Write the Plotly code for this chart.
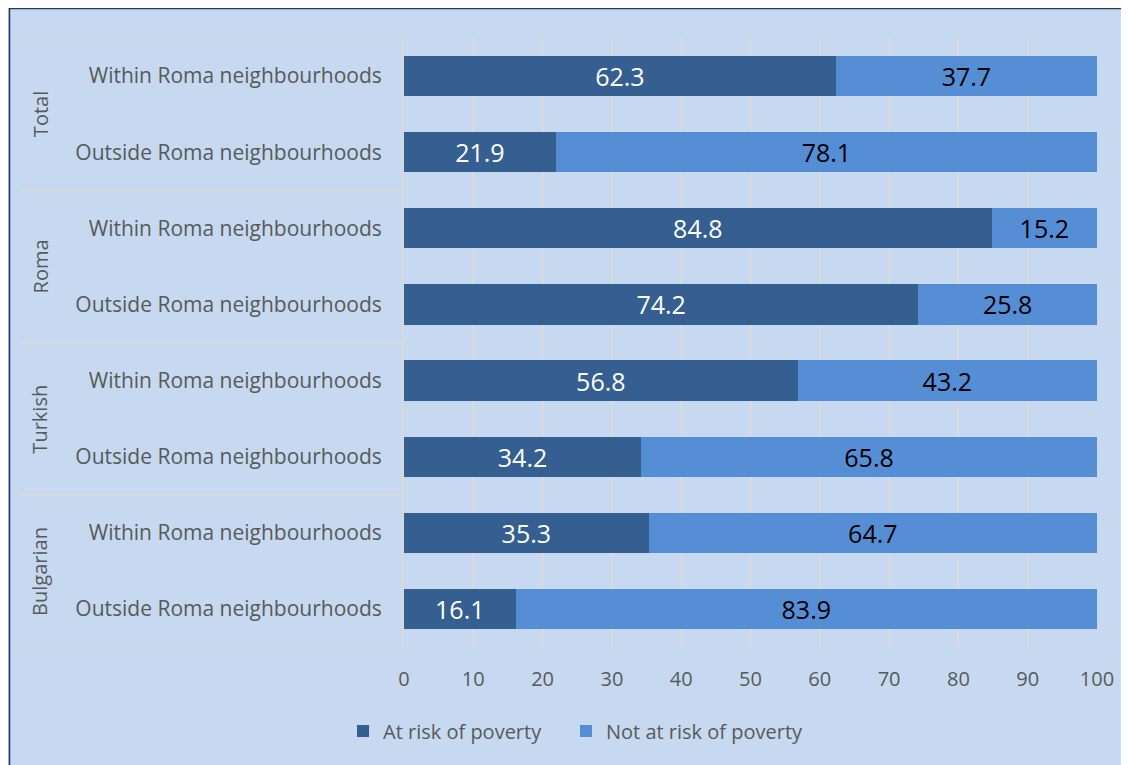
import plotly.graph_objects as go

groups = ["Total", "Roma", "Turkish", "Bulgarian"]
subgroups = ["Within Roma neighbourhoods", "Outside Roma neighbourhoods"]
at_risk = [62.3, 21.9, 84.8, 74.2, 56.8, 34.2, 35.3, 16.1]
not_at_risk = [37.7, 78.1, 15.2, 25.8, 43.2, 65.8, 64.7, 83.9]
x_ticks = list(range(0, 101, 10))

DARK = "#355F91"
LIGHT = "#558ED5"
BG = "#C6D9F0"
GRID = "#D9D9D9"
TXT = "#595959"
FONT = "Open Sans"

rows = list(range(len(at_risk)))
row_labels = [subgroups[i % 2] for i in rows]

# the page puts the figure 8px in from the top-left corner
OFF = 8
FW, FH = 1121, 757
L, T = 404 - OFF, 38 - OFF
R = FW - L - 693
B = FH - T - 609
W = FW - L - R
H = FH - T - B


def px_x(sx):
    return (sx - OFF - L) / W


def px_y(sy):
    return (FH - B - (sy - OFF)) / H


def cx(sx):
    return (sx - OFF) / FW


def cy(sy):
    return 1 - (sy - OFF) / FH


fig = go.Figure()
fig.add_trace(go.Bar(
    y=rows, x=at_risk, orientation="h", name="At risk of poverty",
    marker=dict(color=DARK, line=dict(width=0)),
    text=[f"{v:.1f}" for v in at_risk], textposition="inside",
    insidetextanchor="middle", textangle=0,
    textfont=dict(color="white", size=25, family=FONT),
    legend="legend", showlegend=True,
))
fig.add_trace(go.Bar(
    y=rows, x=not_at_risk, orientation="h", name="Not at risk of poverty",
    marker=dict(color=LIGHT, line=dict(width=0)),
    text=[f"{v:.1f}" for v in not_at_risk], textposition="inside",
    insidetextanchor="middle", textangle=0,
    textfont=dict(color="black", size=25, family=FONT),
    legend="legend2", showlegend=True,
))

shapes = []
# group dividers in the category area
for yb in [-0.5, 1.5, 3.5, 5.5, 7.5]:
    shapes.append(dict(type="line", xref="paper", yref="y", x0=px_x(21), x1=0,
                       y0=yb, y1=yb, line=dict(color=GRID, width=2)))
# navy frame round the chart
shapes.append(dict(type="line", xref="paper", yref="paper",
                   x0=px_x(9), x1=px_x(1160), y0=px_y(8.5), y1=px_y(8.5),
                   line=dict(color="#1F3864", width=1.5)))
shapes.append(dict(type="line", xref="paper", yref="paper",
                   x0=px_x(9.5), x1=px_x(9.5), y0=px_y(8), y1=px_y(800),
                   line=dict(color="#1F3864", width=1.5)))

annotations = []
for gi, g in enumerate(groups):
    annotations.append(dict(
        text=g, xref="paper", yref="y", x=px_x(40), y=gi * 2 + 0.5,
        textangle=-90, showarrow=False, xanchor="center", yanchor="middle",
        font=dict(size=20, color=TXT, family=FONT),
    ))

legend_style = dict(
    orientation="h", xref="container", yref="container",
    xanchor="left", yanchor="middle", y=cy(731),
    font=dict(size=20, color=TXT), bgcolor="rgba(0,0,0,0)",
)

fig.update_layout(
    barmode="stack",
    bargap=0.47,
    showlegend=True,
    width=FW, height=FH,
    margin=dict(l=L, r=R, t=T, b=B),
    paper_bgcolor=BG,
    plot_bgcolor=BG,
    font=dict(family=FONT, color=TXT, size=20),
    xaxis=dict(
        range=[0, 100], tickvals=x_ticks, showgrid=True, gridcolor=GRID,
        gridwidth=2, zeroline=False, showline=False, ticks="",
        tickfont=dict(size=20, color=TXT), ticklabelstandoff=18,
    ),
    yaxis=dict(
        tickvals=rows, ticktext=row_labels, range=[7.5, -0.5],
        showgrid=False, zeroline=False, showline=True, linecolor=GRID,
        linewidth=2, ticks="", ticklabelstandoff=16,
        tickfont=dict(size=21, color=TXT),
    ),
    legend=dict(x=cx(343), **legend_style),
    legend2=dict(x=cx(566), **legend_style),
    shapes=shapes,
    annotations=annotations,
)

fig.write_html("out.html")
